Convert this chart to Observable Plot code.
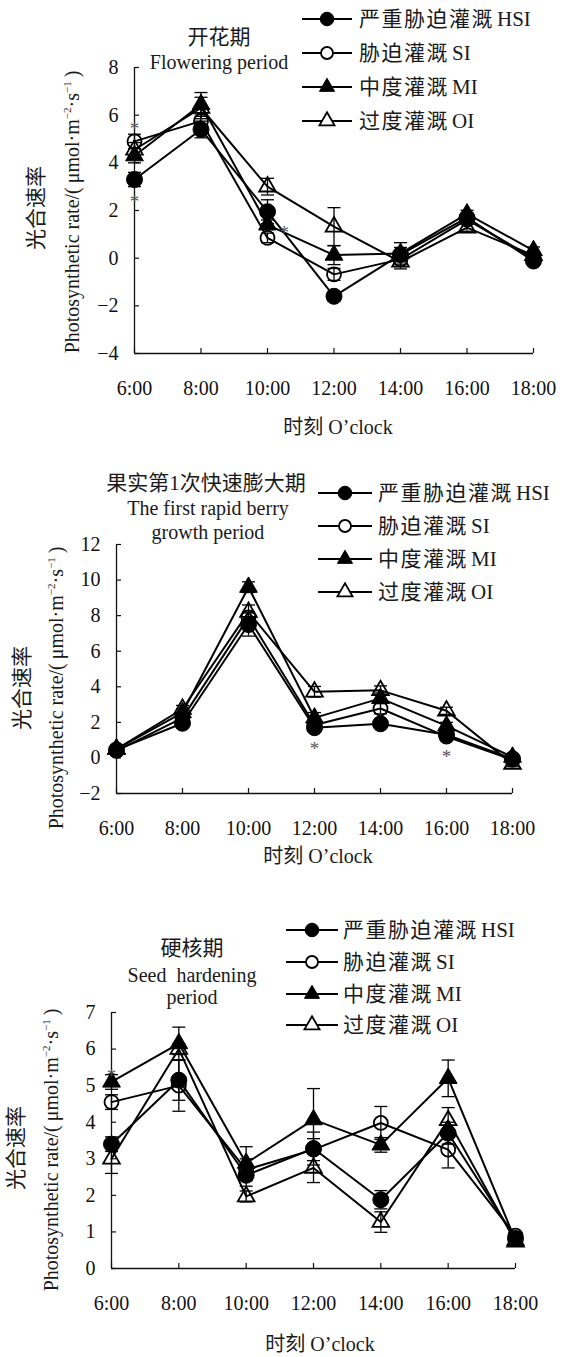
<!DOCTYPE html>
<html><head><meta charset="utf-8">
<script src="https://cdn.jsdelivr.net/npm/d3@7"></script>
<script src="https://cdn.jsdelivr.net/npm/@observablehq/plot@0.6"></script>
<style>
body{margin:0;background:#fff;}
#wrap{position:relative;width:567px;height:1357px;overflow:hidden;font-family:'Liberation Serif','Times New Roman','Noto Sans CJK SC',serif;color:#1a1a1a;}
.abs{position:absolute;white-space:nowrap;line-height:1;}
.ctr{transform:translate(-50%,-50%);}
.rot{transform:translate(-50%,-50%) rotate(-90deg);}
.panel{position:absolute;left:0;}
.cjk{letter-spacing:1.5px;margin-right:3px;}
sup{font-size:0.55em;vertical-align:0.75em;line-height:0;}
</style></head><body><div id="wrap"></div>
<script>
// ---------------- data ----------------
const hours = [6, 8, 10, 12, 14, 16, 18];
const timeLabels = ["6:00", "8:00", "10:00", "12:00", "14:00", "16:00", "18:00"];
const seriesKeys = ["HSI", "SI", "MI", "OI"];
const seriesNamesCN = ["严重胁迫灌溉", "胁迫灌溉", "中度灌溉", "过度灌溉"];

// Panel 1: 开花期 Flowering period
const flowerHSI = [3.3, 5.4, 1.95, -1.6, 0.15, 1.7, -0.12];
const flowerSI  = [4.9, 5.75, 0.85, -0.68, -0.05, 1.62, 0.0];
const flowerMI  = [4.3, 6.45, 1.4, 0.13, 0.2, 1.86, 0.32];
const flowerOI  = [4.55, 6.3, 3.0, 1.32, -0.15, 1.28, 0.12];
const flowerErrHSI = [0.3, 0.35, 0.5, 0.2, 0.3, 0.15, 0.1];
const flowerErrSI  = [0.3, 0.3, 0.2, 0.25, 0.3, 0.15, 0.1];
const flowerErrMI  = [0.3, 0.5, 0.2, 0.4, 0.45, 0.15, 0.15];
const flowerErrOI  = [0.3, 0.45, 0.35, 0.8, 0.3, 0.15, 0.1];
const flowerStarHours  = [6, 6, 10.5];
const flowerStarValues = [5.65, 2.55, 1.25];

// Panel 2: 果实第1次快速膨大期
const berryHSI = [0.45, 1.95, 7.5, 1.7, 1.92, 1.3, -0.05];
const berrySI  = [0.4, 2.25, 7.9, 1.85, 2.78, 1.2, -0.1];
const berryMI  = [0.5, 2.55, 9.6, 2.25, 3.35, 1.8, 0.05];
const berryOI  = [0.5, 2.75, 8.2, 3.72, 3.8, 2.65, -0.35];
const berryErrHSI = [0.1, 0.2, 0.65, 0.2, 0.2, 0.2, 0.1];
const berryErrSI  = [0.1, 0.2, 0.3, 0.2, 0.3, 0.2, 0.1];
const berryErrMI  = [0.1, 0.2, 0.3, 0.3, 0.3, 0.2, 0.1];
const berryErrOI  = [0.1, 0.2, 0.4, 0.3, 0.25, 0.2, 0.15];
const berryStarHours  = [12, 16];
const berryStarValues = [0.8, 0.35];

// Panel 3: 硬核期 Seed hardening period
const seedHSI = [3.4, 5.15, 2.55, 3.28, 1.88, 3.7, 0.82];
const seedSI  = [4.55, 5.0, 2.7, 3.25, 3.98, 3.25, 0.9];
const seedMI  = [5.1, 6.15, 2.88, 4.07, 3.38, 5.2, 0.77];
const seedOI  = [3.0, 6.0, 1.97, 2.75, 1.27, 4.05, 0.73];
const seedErrHSI = [0.2, 0.55, 0.3, 0.45, 0.25, 0.3, 0.1];
const seedErrSI  = [0.2, 0.7, 0.3, 0.3, 0.45, 0.5, 0.1];
const seedErrMI  = [0.2, 0.45, 0.45, 0.85, 0.2, 0.5, 0.1];
const seedErrOI  = [0.4, 0.15, 0.15, 0.4, 0.28, 0.35, 0.1];
const seedStarHours  = [6];
const seedStarValues = [5.4];

// ---------------- layout ----------------
const FONT = "'Liberation Serif','Times New Roman','Noto Sans CJK SC',serif";
const wrap = document.getElementById("wrap");

const panels = [
  {
    top: 0, height: 440, mL: 134, mR: 34, mT: 67, mB: 87,
    yDomain: [-4, 8], yTicks: [-4, -2, 0, 2, 4, 6, 8],
    values: [flowerHSI, flowerSI, flowerMI, flowerOI],
    errs: [flowerErrHSI, flowerErrSI, flowerErrMI, flowerErrOI],
    starH: flowerStarHours, starV: flowerStarValues,
    title: [["开花期", 219, 37, 21], ["Flowering period", 219, 62, 20]],
    ylab: {cn: [36, 208], en: [72, 212]},
    xlab: [338, 427],
    legend: {l0: 302, l1: 352, tx: 359, rows: [19, 53, 87, 121]}
  },
  {
    top: 440, height: 440, mL: 116, mR: 55, mT: 104, mB: 87,
    yDomain: [-2, 12], yTicks: [-2, 0, 2, 4, 6, 8, 10, 12],
    values: [berryHSI, berrySI, berryMI, berryOI],
    errs: [berryErrHSI, berryErrSI, berryErrMI, berryErrOI],
    starH: berryStarHours, starV: berryStarValues,
    title: [["果实第1次快速膨大期", 206, 483, 21], ["The first rapid berry", 208, 508, 20], ["growth period", 208, 532, 20]],
    ylab: {cn: [22, 688], en: [56, 688]},
    xlab: [318, 856],
    legend: {l0: 318, l1: 372, tx: 378, rows: [493, 526, 559, 592]}
  },
  {
    top: 880, height: 477, mL: 111, mR: 52, mT: 132, mB: 89,
    yDomain: [0, 7], yTicks: [0, 1, 2, 3, 4, 5, 6, 7],
    values: [seedHSI, seedSI, seedMI, seedOI],
    errs: [seedErrHSI, seedErrSI, seedErrMI, seedErrOI],
    starH: seedStarHours, starV: seedStarValues,
    title: [["硬核期", 192, 948, 21], ["Seed\u2002hardening", 192, 975, 20], ["period", 192, 997, 20]],
    ylab: {cn: [16, 1148], en: [51, 1150]},
    xlab: [320, 1344],
    legend: {l0: 286, l1: 338, tx: 343, rows: [930, 962, 994, 1025]}
  }
];

// marker styles per series
const markerStyle = {
  HSI: {symbol: "circle", fill: "#000", r: 8, sw: 1},
  SI:  {symbol: "circle", fill: "none", r: 7, sw: 1.8},
  MI:  {symbol: "triangle", fill: "#000", r: 6.6, sw: 1},
  OI:  {symbol: "triangle", fill: "none", r: 6.2, sw: 1.8}
};
const capSymbol = {draw(ctx) { ctx.moveTo(-6.5, 0); ctx.lineTo(6.5, 0); }};
const fmtY = d => d < 0 ? "\u2212" + Math.abs(d) : String(d);
const fmtX = h => timeLabels[hours.indexOf(h)];

function addText(html, x, y, size, cls) {
  const d = document.createElement("div");
  d.className = "abs " + cls;
  d.style.left = x + "px";
  d.style.top = y + "px";
  d.style.fontSize = size + "px";
  d.innerHTML = html;
  wrap.appendChild(d);
  return d;
}

panels.forEach(p => {
  const rows = [];
  seriesKeys.forEach((k, si) => p.values[si].forEach((v, i) => rows.push({s: k, h: hours[i], v, e: p.errs[si][i]})));
  const stars = p.starH.map((h, i) => ({h, v: p.starV[i]}));
  const marks = [
    Plot.ruleX([hours[0]], {stroke: "#111", strokeWidth: 1.3}),
    Plot.ruleY([p.yDomain[0]], {stroke: "#111", strokeWidth: 1.3}),
    Plot.axisY(p.yTicks, {tickSize: -5, tickPadding: 21, tickFormat: fmtY, fill: "#111", stroke: "#111", strokeWidth: 1.2}),
    Plot.axisX(hours, {tickSize: -5, tickPadding: 32, tickFormat: fmtX, fill: "#111", stroke: "#111", strokeWidth: 1.2}),
    Plot.line(rows, {x: "h", y: "v", z: "s", stroke: "#000", strokeWidth: 2, curve: "linear"}),
    Plot.ruleX(rows, {x: "h", y1: d => d.v - d.e, y2: d => d.v + d.e, stroke: "#000", strokeWidth: 1.3}),
    Plot.dot(rows, {x: "h", y: d => d.v + d.e, symbol: capSymbol, r: 5, stroke: "#000", fill: "none", strokeWidth: 1.3}),
    Plot.dot(rows, {x: "h", y: d => d.v - d.e, symbol: capSymbol, r: 5, stroke: "#000", fill: "none", strokeWidth: 1.3})
  ];
  ["OI", "SI", "MI", "HSI"].forEach(k => {
    const m = markerStyle[k];
    marks.push(Plot.dot(rows.filter(d => d.s === k), {
      x: "h", y: "v", symbol: m.symbol, r: m.r,
      fill: m.fill, stroke: "#000", strokeWidth: m.sw
    }));
  });
  marks.push(Plot.text(stars, {x: "h", y: "v", text: () => "*", fill: "#555", fontSize: 19, dy: 5}));

  const chart = Plot.plot({
    width: 567, height: p.height,
    marginLeft: p.mL, marginRight: p.mR, marginTop: p.mT, marginBottom: p.mB,
    x: {domain: [hours[0], hours[hours.length - 1]], label: null},
    y: {domain: p.yDomain, label: null},
    style: {fontFamily: FONT, fontSize: "20px", background: "transparent", overflow: "visible", color: "#111"},
    marks
  });
  chart.classList.add("panel");
  chart.style.top = p.top + "px";
  wrap.appendChild(chart);

  // titles
  p.title.forEach(([t, x, y, s]) => addText(t, x, y, s, "ctr"));
  // y-axis titles
  addText("光合速率", p.ylab.cn[0], p.ylab.cn[1], 21, "rot");
  addText("Photosynthetic rate/(\u2009\u03bcmol\u00b7m<sup>\u22122</sup>\u00b7s<sup>\u22121</sup>\u2009)", p.ylab.en[0], p.ylab.en[1], 20, "rot");
  // x-axis title
  addText("时刻 O\u2019clock", p.xlab[0], p.xlab[1], 20, "ctr");

  // legend
  const L = p.legend;
  seriesKeys.forEach((k, i) => {
    const y = L.rows[i];
    const w = L.l1 - L.l0;
    const svg = d3.create("svg").attr("width", w).attr("height", 24)
      .style("position", "absolute").style("left", L.l0 + "px").style("top", (y - 12) + "px");
    svg.append("line").attr("x1", 0).attr("x2", w).attr("y1", 12).attr("y2", 12)
      .attr("stroke", "#000").attr("stroke-width", 2);
    const m = markerStyle[k];
    const sym = m.symbol === "circle" ? d3.symbolCircle : d3.symbolTriangle;
    const rr = m.symbol === "circle" ? (m.fill === "none" ? 6 : 6.8) : 5.6;
    svg.append("path").attr("d", d3.symbol(sym, Math.PI * rr * rr)())
      .attr("transform", `translate(${w / 2},12)`)
      .attr("fill", m.fill === "none" ? "#fff" : "#000").attr("stroke", "#000").attr("stroke-width", m.sw);
    wrap.appendChild(svg.node());
    const t = addText(`<span class="cjk">${seriesNamesCN[i]}</span>${k}`, L.tx, y, 21, "");
    t.style.transform = "translateY(-50%)";
  });
});
</script>
</body></html>
